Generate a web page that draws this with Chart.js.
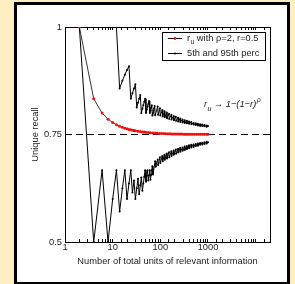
<!DOCTYPE html>
<html>
<head>
<meta charset="utf-8">
<script src="https://cdn.jsdelivr.net/npm/chart.js@4.4.1/dist/chart.umd.min.js"></script>
<style>
  html, body { margin: 0; padding: 0; }
  body { width: 295px; height: 284px; background: #fdefc1; position: relative; overflow: hidden; }
  #panel { position: absolute; left: 14px; top: 2px; width: 276px; height: 283px; box-sizing: border-box; border: 3px solid #000; background: #fff; }
  #chart { position: absolute; left: 0; top: 0; }
</style>
</head>
<body>
<div id="panel"></div>
<canvas id="chart" width="295" height="284"></canvas>
<script>
// mean unique recall, rho = 2 assessors with r = 0.5
const meanUnits = [2, 4, 6, 8, 10, 12, 14, 16, 18, 20, 22, 24, 26, 28, 30, 34, 38, 42, 46, 50,
  56, 62, 70, 78, 86, 96, 106, 118, 130, 144, 160, 176, 194, 214, 236, 260, 286, 316, 348, 384,
  424, 468, 516, 570, 628, 692, 764, 842, 930, 1000]
const meanRecall = [1, 0.8333, 0.8, 0.7857, 0.7778, 0.7727, 0.7692, 0.7667, 0.7647, 0.7632, 0.7619, 0.7609, 0.76, 0.7593, 0.7586, 0.7576, 0.7568, 0.7561, 0.7556, 0.7551,
  0.7545, 0.7541, 0.7536, 0.7532, 0.7529, 0.7526, 0.7524, 0.7521, 0.7519, 0.7517, 0.7516, 0.7514, 0.7513, 0.7512, 0.7511, 0.751, 0.7509, 0.7508, 0.7507, 0.7507,
  0.7506, 0.7505, 0.7505, 0.7504, 0.7504, 0.7504, 0.7503, 0.7503, 0.7503, 0.7503]

// 95th percentile
const upperUnits = [2, 4, 6, 8, 10, 12, 14, 16, 18, 20, 22, 24, 26, 28, 30, 32, 34, 36, 38, 40,
  42, 44, 46, 48, 50, 52, 54, 56, 58, 60, 62, 64, 66, 68, 70, 72, 74, 76, 78,
  88, 90, 98, 100, 110, 112, 122, 124, 136, 138, 152, 154, 170, 172, 190, 192, 212, 214, 236, 238,
  262, 264, 292, 294, 324, 326, 360, 362, 400, 402, 446, 448, 496, 498, 552, 554, 614, 616,
  682, 684, 758, 760, 842, 844, 936, 938, 1000]
const upperRecall = [1, 1, 1, 1, 1, 1, 0.857, 0.875, 0.889, 0.9, 0.909, 0.833, 0.846, 0.857, 0.867, 0.813, 0.824, 0.833, 0.842, 0.8,
  0.81, 0.818, 0.826, 0.833, 0.8, 0.808, 0.815, 0.821, 0.828, 0.8, 0.806, 0.813, 0.818, 0.794, 0.8, 0.806, 0.811, 0.816, 0.795,
  0.815, 0.796, 0.811, 0.794, 0.807, 0.792, 0.804, 0.79, 0.801, 0.788, 0.798, 0.786, 0.796, 0.785, 0.793, 0.783, 0.791, 0.782, 0.789, 0.78,
  0.787, 0.779, 0.785, 0.778, 0.783, 0.777, 0.782, 0.776, 0.78, 0.775, 0.779, 0.774, 0.777, 0.773, 0.776, 0.772, 0.775, 0.771,
  0.774, 0.77, 0.773, 0.77, 0.772, 0.769, 0.771, 0.768, 0.77]

// 5th percentile
const lowerUnits = [2, 4, 6, 8, 10, 12, 14, 16, 18, 20, 22, 24, 26, 28, 30, 32, 34, 36, 38, 40,
  42, 44, 46, 48, 50, 52, 54, 56, 58, 60, 62, 64, 66, 68, 70,
  78, 80, 88, 90, 98, 100, 110, 112, 122, 124, 136, 138, 152, 154, 170, 172, 190, 192, 212, 214, 236, 238,
  262, 264, 292, 294, 324, 326, 360, 362, 400, 402, 446, 448, 496, 498, 552, 554, 614, 616,
  682, 684, 758, 760, 842, 844, 936, 938, 1000]
const lowerRecall = [1, 0.5, 0.667, 0.5, 0.6, 0.667, 0.571, 0.625, 0.667, 0.6, 0.636, 0.667, 0.615, 0.643, 0.6, 0.625, 0.647, 0.611, 0.632, 0.65,
  0.619, 0.636, 0.652, 0.667, 0.64, 0.654, 0.667, 0.643, 0.655, 0.667, 0.645, 0.656, 0.667, 0.676, 0.657,
  0.688, 0.675, 0.692, 0.679, 0.697, 0.684, 0.7, 0.688, 0.703, 0.691, 0.706, 0.694, 0.709, 0.697, 0.711, 0.7, 0.713, 0.703, 0.715, 0.705, 0.717, 0.708,
  0.719, 0.71, 0.72, 0.712, 0.722, 0.714, 0.723, 0.716, 0.725, 0.718, 0.726, 0.72, 0.727, 0.721, 0.728, 0.723, 0.729, 0.724,
  0.73, 0.726, 0.731, 0.727, 0.732, 0.728, 0.733, 0.729, 0.732]

// limit 1-(1-r)^rho
const limitUnits = [1, 20000]
const limitRecall = [0.75, 0.75]

const xLabelled = [1, 10, 100, 1000]
const yTicks = [0.5, 0.75, 1]

const FONT = '"Liberation Sans", Arial, sans-serif'
const INK = '#222'
const RED = '#f01010'

Chart.defaults.font.family = FONT
Chart.defaults.font.size = 9.3
Chart.defaults.color = INK

const toPoints = (xs, ys) => xs.map((x, i) => ({ x, y: ys[i] }))

const axisGrid = { drawOnChartArea: false, drawTicks: true, tickLength: -3, color: '#000', lineWidth: 1 }
const axisBorder = { display: true, color: '#000', width: 1 }

// legend box + asymptote label, both inside the axes
const annotations = {
  id: 'annotations',
  afterDraw(chart) {
    const { ctx } = chart
    ctx.save()

    ctx.fillStyle = '#fff'
    ctx.fillRect(162.5, 32.5, 103, 28)
    ctx.strokeStyle = '#000'
    ctx.lineWidth = 1
    ctx.strokeRect(162.5, 32.5, 103, 28)

    ctx.beginPath()
    ctx.moveTo(168, 38.5); ctx.lineTo(182, 38.5)
    ctx.moveTo(168, 53.5); ctx.lineTo(182, 53.5)
    ctx.stroke()
    ctx.fillStyle = RED
    ctx.beginPath(); ctx.arc(175, 38.5, 1.4, 0, Math.PI * 2); ctx.fill()
    ctx.fillStyle = '#000'
    ctx.beginPath(); ctx.arc(175, 53.5, 1, 0, Math.PI * 2); ctx.fill()

    ctx.fillStyle = INK
    ctx.textBaseline = 'middle'
    ctx.textAlign = 'left'
    ctx.font = `9.3px ${FONT}`
    ctx.fillText('r', 187, 38)
    let x = 187 + ctx.measureText('r').width
    ctx.font = `7px ${FONT}`
    ctx.fillText('u', x + 0.3, 42)
    x += ctx.measureText('u').width + 0.3
    ctx.font = `9.3px ${FONT}`
    ctx.fillText(' with \u03c1=2, r=0.5', x, 38)
    ctx.fillText('5th and 95th perc', 187, 53)

    ctx.font = `italic 9.3px ${FONT}`
    ctx.fillText('r', 204, 104)
    x = 204 + ctx.measureText('r').width
    ctx.font = `italic 7px ${FONT}`
    ctx.fillText('u', x + 0.3, 109)
    x += ctx.measureText('u').width + 0.3
    ctx.font = `italic 9.3px ${FONT}`
    ctx.fillText(' \u2192 1\u2212(1\u2212r)', x, 104)
    x += ctx.measureText(' \u2192 1\u2212(1\u2212r)').width
    ctx.font = `italic 7px ${FONT}`
    ctx.fillText('\u03c1', x + 0.5, 100)

    ctx.restore()
  },
}

new Chart(document.getElementById('chart'), {
  type: 'line',
  data: {
    datasets: [
      {
        data: toPoints(meanUnits, meanRecall),
        borderColor: '#000',
        borderWidth: 0.8,
        pointRadius: 1.5,
        pointBackgroundColor: RED,
        pointBorderColor: RED,
        pointBorderWidth: 0,
      },
      {
        data: toPoints(upperUnits, upperRecall),
        borderColor: '#000',
        borderWidth: 1,
        pointRadius: 1,
        pointBackgroundColor: '#000',
        pointBorderWidth: 0,
      },
      {
        data: toPoints(lowerUnits, lowerRecall),
        borderColor: '#000',
        borderWidth: 1,
        pointRadius: 1,
        pointBackgroundColor: '#000',
        pointBorderWidth: 0,
      },
      {
        data: toPoints(limitUnits, limitRecall),
        borderColor: '#000',
        borderWidth: 1,
        borderDash: [7, 4],
        pointRadius: 0,
      },
    ],
  },
  options: {
    responsive: false,
    animation: false,
    devicePixelRatio: 1,
    layout: { padding: { left: 29.5, right: 25, top: 27, bottom: 17 } },
    plugins: { legend: { display: false }, tooltip: { enabled: false } },
    scales: {
      x: {
        type: 'logarithmic',
        position: 'bottom',
        min: 1,
        max: 20000,
        grid: axisGrid,
        border: axisBorder,
        ticks: {
          autoSkip: false,
          maxRotation: 0,
          padding: 3,
          callback: v => xLabelled.includes(v) ? String(v) : '',
        },
        title: { display: true, text: 'Number of total units of relevant information', padding: 0 },
        afterFit: s => { s.height = 25 },
      },
      xTop: {
        type: 'logarithmic',
        position: 'top',
        min: 1,
        max: 20000,
        grid: axisGrid,
        border: axisBorder,
        ticks: { display: false, autoSkip: false },
        afterFit: s => { s.height = 0 },
      },
      y: {
        type: 'linear',
        position: 'left',
        min: 0.5,
        max: 1,
        grid: axisGrid,
        border: axisBorder,
        ticks: { padding: 6, callback: v => String(v) },
        afterBuildTicks: s => { s.ticks = yTicks.map(value => ({ value })) },
        title: { display: true, text: 'Unique recall', padding: 0 },
        afterFit: s => { s.width = 35.5 },
      },
      yRight: {
        type: 'linear',
        position: 'right',
        min: 0.5,
        max: 1,
        grid: axisGrid,
        border: axisBorder,
        ticks: { display: false },
        afterBuildTicks: s => { s.ticks = yTicks.map(value => ({ value })) },
        afterFit: s => { s.width = 0 },
      },
    },
  },
  plugins: [annotations],
})
</script>
</body>
</html>
